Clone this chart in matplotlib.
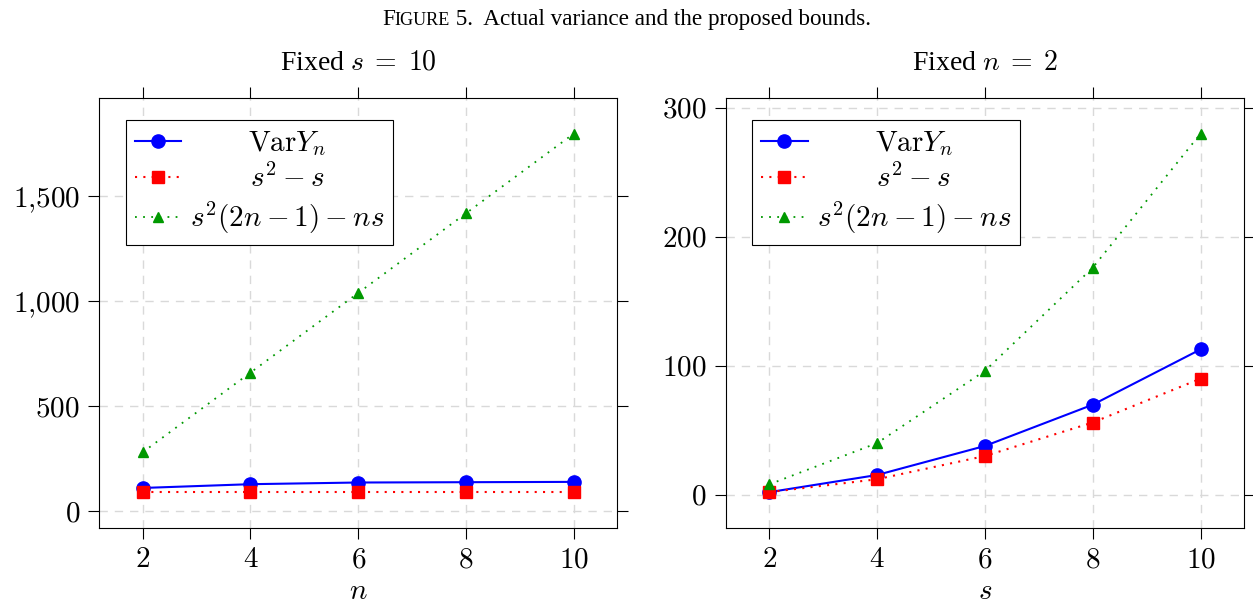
import numpy as np
import matplotlib
matplotlib.use("Agg")
import matplotlib.pyplot as plt
from matplotlib.ticker import FuncFormatter, MultipleLocator

plt.rcParams['font.family'] = 'serif'
plt.rcParams['font.serif'] = ['Liberation Serif', 'DejaVu Serif']
plt.rcParams['mathtext.fontset'] = 'cm'

# ---- datos ----
n_vals = [2, 4, 6, 8, 10]            # panel izquierdo, s = 10
var_fixed_s = [110, 128, 136, 137.5, 139]
low_fixed_s = [90, 90, 90, 90, 90]
up_fixed_s = [280, 660, 1040, 1420, 1800]

s_vals = [2, 4, 6, 8, 10]            # panel derecho, n = 2
var_fixed_n = [2, 15.3, 37.8, 69.8, 112.7]
low_fixed_n = [2, 12, 30, 56, 90]
up_fixed_n = [8, 40, 96, 176, 280]

labels = [r'$\mathrm{Var}Y_n$', r'$s^2 - s$', r'$s^2(2n - 1) - ns$']
fig_title_rest = ' 5.  Actual variance and the proposed bounds.'

FS = 21
fig = plt.figure(figsize=(12.53, 6.04), dpi=100)
ax1 = fig.add_axes([0.0794, 0.1258, 0.413, 0.7124])
ax2 = fig.add_axes([0.5794, 0.1258, 0.4132, 0.7124])


def fmt(v, pos):
    s = f'{v:,.0f}'.replace(',', '{,}')
    return f'${s}$'


def dibujar(ax, x, var, low, up, xlabel, title, ystep):
    ax.plot(x, var, color='#0000ff', lw=1.5, marker='o', ms=9.5, label=labels[0])
    ax.plot(x, low, color='#ff0000', lw=1.5, ls=(0, (1, 3)), marker='s', ms=8.5,
            label=labels[1])
    ax.plot(x, up, color='#009900', lw=1.3, ls=(0, (1, 3.5)), marker='^', ms=6.5,
            label=labels[2])
    lo = min(min(var), min(low), min(up))
    hi = max(max(var), max(low), max(up))
    r = hi - lo
    ax.set_ylim(lo - 0.1 * r, hi + 0.1 * r)
    ax.set_xlim(1.2, 10.8)
    ax.xaxis.set_major_locator(MultipleLocator(2))
    ax.yaxis.set_major_locator(MultipleLocator(ystep))
    ax.xaxis.set_major_formatter(FuncFormatter(fmt))
    ax.yaxis.set_major_formatter(FuncFormatter(fmt))
    ax.tick_params(direction='out', length=8, width=0.8, top=True, right=True,
                   labelsize=FS, pad=6)
    ax.grid(True, color='#d9d9d9', ls=(0, (6, 5)), lw=1)
    ax.set_axisbelow(True)
    for sp in ax.spines.values():
        sp.set_linewidth(0.8)
    ax.set_xlabel(xlabel, fontsize=FS, labelpad=4)
    ax.set_title(title, fontsize=FS - 1, pad=20)
    leg = ax.legend(loc='upper left', bbox_to_anchor=(0.051, 0.948),
                    borderaxespad=0, fontsize=FS, fancybox=False,
                    edgecolor='black', framealpha=1, handlelength=1.6,
                    handletextpad=0.3, borderpad=0.3, labelspacing=0.22,
                    numpoints=1)
    leg.get_frame().set_linewidth(0.8)
    return leg


leg1 = dibujar(ax1, n_vals, var_fixed_s, low_fixed_s, up_fixed_s, r'$n$',
               r'Fixed $s\;=\;10$', 500)
leg2 = dibujar(ax2, s_vals, var_fixed_n, low_fixed_n, up_fixed_n, r'$s$',
               r'Fixed $n\;=\;2$', 100)

# titulo con versalitas simuladas
TY = 0.958
t1 = fig.text(0.5, TY, 'F', fontsize=16.7, va='baseline', ha='left')
t2 = fig.text(0.5, TY, 'IGURE', fontsize=13.1, va='baseline', ha='left')
t3 = fig.text(0.5, TY, fig_title_rest, fontsize=16.7, va='baseline', ha='left')

fig.canvas.draw()
r = fig.canvas.get_renderer()
w1 = t1.get_window_extent(r).width
w2 = t2.get_window_extent(r).width
w3 = t3.get_window_extent(r).width
W = fig.bbox.width
x0 = (W - (w1 + w2 + w3)) / 2
t1.set_x(x0 / W)
t2.set_x((x0 + w1) / W)
t3.set_x((x0 + w1 + w2) / W)

# centrar textos de la leyenda
for leg in (leg1, leg2):
    texts = leg.get_texts()
    ws = [t.get_window_extent(r).width for t in texts]
    m = max(ws)
    for t, w in zip(texts, ws):
        t.set_x((m - w) / 2)

fig.savefig('out.png', dpi=100)
